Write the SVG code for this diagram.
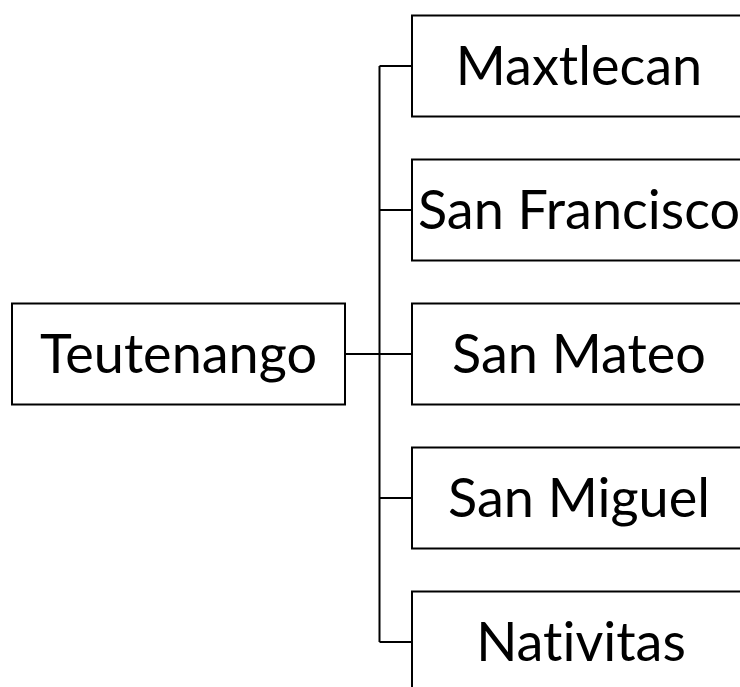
<svg xmlns="http://www.w3.org/2000/svg" width="740" height="687" viewBox="0 0 740 687">
<style>
.box{fill:#fff;stroke:#000;stroke-width:2}
.lbl{font-family:Lato,"Liberation Sans",sans-serif;font-size:54px;fill:#000;text-anchor:middle;font-variant-ligatures:none;font-feature-settings:"liga" 0,"clig" 0}
.con{fill:none;stroke:#000;stroke-width:2}
</style>
<rect width="740" height="687" fill="#fff"/>
<g id="connectors">
<path class="con" d="M346 354H412M379.5 66V642M379.5 66H412M379.5 210H412M379.5 498H412M379.5 642H412"/>
</g>
<g id="teutenango"><rect class="box" x="12" y="303.5" width="333" height="101"/><text class="lbl" x="178.5" y="373">Teutenango</text></g>
<g id="maxtlecan"><rect class="box" x="412" y="15.5" width="340" height="101"/><text class="lbl" x="579" y="85">Maxtlecan</text></g>
<g id="sanfrancisco"><rect class="box" x="412" y="159.5" width="340" height="101"/><text class="lbl" x="579" y="229">San Francisco</text></g>
<g id="sanmateo"><rect class="box" x="412" y="303.5" width="340" height="101"/><text class="lbl" x="579" y="373">San Mateo</text></g>
<g id="sanmiguel"><rect class="box" x="412" y="447.5" width="340" height="101"/><text class="lbl" x="579" y="517">San Miguel</text></g>
<g id="nativitas"><rect class="box" x="412" y="591.5" width="340" height="101"/><text class="lbl" x="581" y="661">Nativitas</text></g>
</svg>
